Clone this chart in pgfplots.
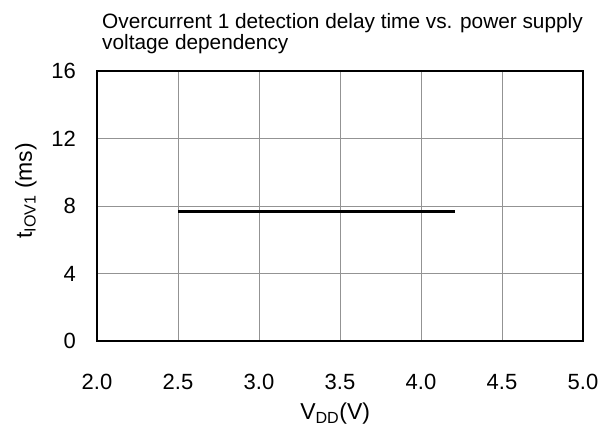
\documentclass[border=0pt]{standalone}
\usepackage{pgfplots}
\pgfplotsset{compat=1.18}
\usepackage{fontspec}
\setmainfont{Liberation Sans}
\begin{document}
\begin{tikzpicture}
\begin{axis}[
  name=ax,
  scale only axis,
  clip=false,
  width=486bp, height=270bp,
  xmin=2, xmax=5, ymin=0, ymax=16,
  xtick={2,2.5,...,5}, ytick={0,4,8,12,16},
  /pgf/number format/assume math mode=true,
  tick label style={font=\fontsize{22bp}{26bp}\selectfont, inner sep=0pt},
  xticklabel style={/pgf/number format/fixed, /pgf/number format/fixed zerofill, /pgf/number format/precision=1, anchor=base, yshift=-49bp},
  yticklabel style={anchor=east, xshift=-21bp},
  major tick length=0pt,
  grid=major,
  grid style={gray!85, line width=0.9pt},
  axis line style={line width=2.6pt},
  xtick pos=bottom, ytick pos=left,
  xlabel={V\textsubscript{DD}(V)},
  ylabel={t\textsubscript{IOV1} (ms)},
  label style={font=\fontsize{23bp}{27bp}\selectfont},
  xlabel style={at={(rel axis cs:0.49,-0.2926)}, anchor=base},
  ylabel style={at={(rel axis cs:-0.117,0.556)}, anchor=south},
]
\addplot[black, line width=3.3pt] coordinates {(2.5,7.67) (4.21,7.67)};
\node[anchor=base west, inner sep=0pt, font=\fontsize{20.8bp}{24bp}\selectfont]
  at (rel axis cs:0.0103,1.159) {Overcurrent 1 detection delay time vs. power supply};
\node[anchor=base west, inner sep=0pt, font=\fontsize{20.8bp}{24bp}\selectfont]
  at (rel axis cs:0.0103,1.0778) {voltage dependency};
\end{axis}
\path ([shift={(-97bp,-86bp)}]ax.south west) rectangle ([shift={(16bp,71bp)}]ax.north east);
\end{tikzpicture}
\end{document}
